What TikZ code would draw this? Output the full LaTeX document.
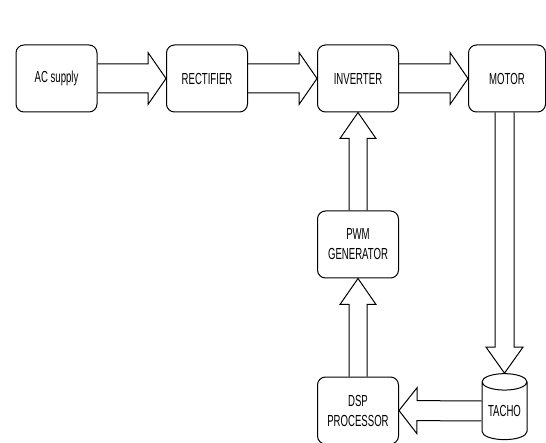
\documentclass[tikz,border=0pt]{standalone}
\usepackage{fontspec}
\setmainfont{Liberation Sans}[FakeStretch=0.6]
\usepackage{tikz}
\usetikzlibrary{calc,shapes.geometric}

% block arrow: from, to, half shaft, half head, head length
\newcommand{\fatarrow}[5]{%
\coordinate (H) at ($(#2)!#5!(#1)$);
\draw[fat] ($(#1)!#3!90:(#2)$) -- ($(H)!#3!90:(#2)$) -- ($(H)!#4!90:(#2)$) -- (#2) -- ($(H)!#4!-90:(#2)$) -- ($(H)!#3!-90:(#2)$) -- ($(#1)!#3!-90:(#2)$);}

\begin{document}
\begin{tikzpicture}[x=1pt,y=1pt,
box/.style={draw,line width=1pt,rounded corners=8pt,minimum width=81pt,minimum height=67pt,inner sep=0pt,align=center,font=\fontsize{16}{20}\selectfont},
drum/.style={draw,line width=1pt,cylinder,shape border rotate=90,aspect=0.5,minimum width=45pt,minimum height=66pt,inner sep=0pt,font=\fontsize{16}{20}\selectfont},
fat/.style={line width=1pt,line join=miter}]
\useasboundingbox (0,0) rectangle (546,442);
\node[box] (AC) at (56.5,363.5) {AC supply};
\node[box] (RE) at (207,363.5) {RECTIFIER};
\node[box] (IN) at (358,363.5) {INVERTER};
\node[box,minimum width=77pt] (MO) at (507,363.5) {MOTOR};
\node[box] (PW) at (358,197.5) {PWM\\GENERATOR};
\node[box] (DS) at (358,31.5) {DSP\\PROCESSOR};
\node[drum] (TA) at (504.5,31) {TACHO};
\coordinate (M) at (TA.north |- MO.south);
\fatarrow{AC.east}{RE.west}{14.5pt}{26pt}{18pt}
\fatarrow{RE.east}{IN.west}{14.5pt}{26pt}{18pt}
\fatarrow{IN.east}{MO.west}{14.5pt}{26pt}{18pt}
\fatarrow{M}{TA.north}{9.5pt}{18.5pt}{26pt}
\fatarrow{TA.west}{DS.east}{10pt}{23pt}{18pt}
\fatarrow{DS.north}{PW.south}{9pt}{18pt}{26pt}
\fatarrow{PW.north}{IN.south}{9pt}{18pt}{26pt}
\end{tikzpicture}
\end{document}
